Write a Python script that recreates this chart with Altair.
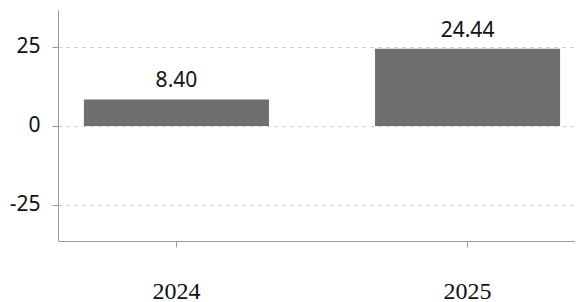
import altair as alt
import pandas as pd

years = ["2024", "2025"]
values = [8.40, 24.44]

df = pd.DataFrame({"year": years, "value": values})

x_enc = alt.X("year:N", title=None, sort=years,
              scale=alt.Scale(range=[0, 528], paddingInner=0.3643, paddingOuter=0.089),
              axis=alt.Axis(labelAngle=0, labelFont="Liberation Serif", labelFontSize=24,
                            labelColor="#111111", labelPadding=51, labelBaseline="alphabetic",
                            tickSize=6, tickColor="#999999", domainColor="#999999",
                            grid=False))
y_enc = alt.Y("value:Q", title=None,
              scale=alt.Scale(domain=[-36.4, 36.7], nice=False, zero=False),
              axis=alt.Axis(values=[-25, 0, 25], labelExpr="'' + datum.value",
                            labelFont="Noto Sans", labelFontSize=21,
                            labelColor="#111111", labelPadding=12, tickSize=6,
                            tickColor="#999999", domainColor="#999999",
                            grid=True, gridColor="#cccccc", gridDash=[4, 4]))

bars = alt.Chart(df).mark_bar(color="#706e6f").encode(x=x_enc, y=y_enc)
labels = alt.Chart(df).mark_text(font="Noto Sans", fontSize=21, color="#111111",
                                 baseline="alphabetic", dy=-12).encode(
    x=alt.X("year:N", sort=years), y="value:Q",
    text=alt.Text("value:Q", format=".2f"))

chart = (bars + labels).properties(
    width=517, height=231,
    autosize=alt.AutoSizeParams(type="none"),
    padding={"left": 50, "top": 2, "right": 0, "bottom": 60},
).configure_view(stroke=None)

chart.save("out.html", embed_options={"renderer": "svg", "actions": False})
